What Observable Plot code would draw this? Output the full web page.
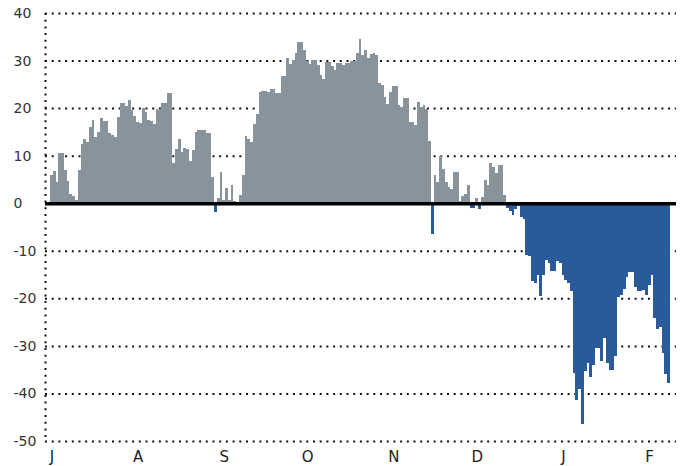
<!DOCTYPE html>
<html><head><meta charset="utf-8">
<script src="https://cdn.jsdelivr.net/npm/d3@7"></script>
<script src="https://cdn.jsdelivr.net/npm/@observablehq/plot@0.6"></script>
<style>body{margin:0;background:#fff}</style>
</head><body><div id="chart"></div>
<script>
const startDate = "2019-07-01";
const values = [
  5.9, 6.7, 4.4, 10.5, 10.5, 6.9, 4.6, 2.0, 1.5, 0.6,
  6.9, 12.4, 13.6, 12.8, 16.1, 17.4, 14, 14.9, 18, 17.2,
  17.2, 14.7, 14.3, 14.0, 18.2, 21, 21, 20.5, 21.8, 19.7,
  18.4, 17, 16.8, 20.1, 19.1, 17.4, 17.2, 16.6, 19.9, 19.5,
  21, 21, 23.1, 23.1, 8.4, 11.5, 13.4, 10.7, 11.7, 11.5,
  8.8, 11.1, 14.9, 15.5, 15.5, 15.5, 14.8, 14.8, 5.5, -1.8,
  1.0, 6.6, 0.7, 3.2, 0.7, 3.8, 0.5, 0.3, 1.7, 6.0,
  14.1, 13.5, 12.9, 16.7, 18.8, 23.4, 23.6, 23.6, 23.4, 24,
  24.1, 23.2, 23.2, 26.8, 26.8, 30.6, 29.2, 30.2, 31.6, 34,
  34, 32.3, 30, 29.2, 30.2, 30.2, 29.1, 27, 26.2, 29.6,
  29.6, 28.9, 28.1, 29.4, 29.4, 29.1, 29.4, 29.4, 30, 30,
  31.6, 34.6, 31.2, 32.3, 30.5, 31.4, 31.5, 31.1, 25.3, 24.8,
  22.3, 20.8, 23.4, 24.7, 24.7, 20.6, 20.2, 22.1, 22.1, 17.1,
  17.1, 16.4, 21.3, 20.3, 20.6, 19.8, 13, -6.4, 5.9, 4.4,
  9.9, 7.1, 4.4, 3.4, 3.0, 6.5, 6.5, 0.4, 1.5, 1.9,
  3.8, -1.0, -1.0, 1.0, -1.2, 1.3, 4.8, 3.8, 8.4, 7.7,
  6.3, 8.0, 8.0, 1.7, -1.0, -1.7, -2.5, -1.3, -0.6, -2.9,
  -3.4, -10.9, -11.2, -16.4, -16.8, -15, -19.5, -15, -12, -12.5,
  -14.2, -14.2, -12.1, -12.5, -15, -16.1, -16.8, -18.4, -35.8, -41.4,
  -39.1, -46.4, -35.3, -33.6, -36.5, -34.1, -30.4, -30.4, -33.1, -28.3,
  -33.5, -35, -35, -32.2, -19.8, -19.4, -18.1, -15.5, -14.5, -14.5,
  -17.7, -18.5, -18.5, -18.3, -19.4, -17.2, -15.1, -24.2, -26.5, -26,
  -31.5, -36, -37.8
];
const monthStarts = ["2019-07-01","2019-08-01","2019-09-01","2019-10-01","2019-11-01","2019-12-01","2020-01-01","2020-02-01"];
const monthLabels = ["J","A","S","O","N","D","J","F"];
const yTicks = [40, 30, 20, 10, 0, -10, -20, -30, -40, -50];

const gray = "#88939c";
const blue = "#295b9b";
const start = new Date(startDate + "T00:00:00Z");
const data = values.map((v, i) => ({date: d3.utcDay.offset(start, i), value: v}));
const endDate = d3.utcDay.offset(start, values.length);
const font = "DejaVu Sans";

const chart = Plot.plot({
  width: 689, height: 466,
  marginLeft: 50, marginRight: 19, marginTop: 13, marginBottom: 25,
  x: {type: "utc", domain: [start, endDate], axis: null},
  y: {domain: [-50, 40], axis: null},
  style: {fontFamily: font, background: "white", overflow: "visible"},
  marks: [
    Plot.ruleY(yTicks, {stroke: "#111", strokeWidth: 2, strokeDasharray: "2,4.7", insetLeft: -5, insetRight: -6}),
    Plot.ruleX([start], {stroke: "#111", strokeWidth: 2, strokeDasharray: "2,4.7", dx: -5}),
    Plot.rect(data, {
      x1: "date", x2: d => d3.utcDay.offset(d.date, 1),
      y1: 0, y2: "value",
      fill: d => d.value < 0 ? blue : gray,
      shapeRendering: "crispEdges"
    }),
    Plot.ruleY([0], {stroke: "#000", strokeWidth: 3.5, insetLeft: -5, insetRight: -6}),
    Plot.text(yTicks, {y: d => d, text: d => String(d), frameAnchor: "left", textAnchor: "start", dx: -37, fontSize: 14, fill: "#333", fontFamily: font}),
    Plot.text(monthStarts, {
      x: d => new Date(d + "T12:00:00Z"),
      text: (d, i) => monthLabels[i],
      frameAnchor: "bottom", lineAnchor: "top", dy: 10,
      fontSize: 15, fill: "#222", fontFamily: font
    })
  ]
});
document.getElementById("chart").append(chart);
</script>
</body></html>
